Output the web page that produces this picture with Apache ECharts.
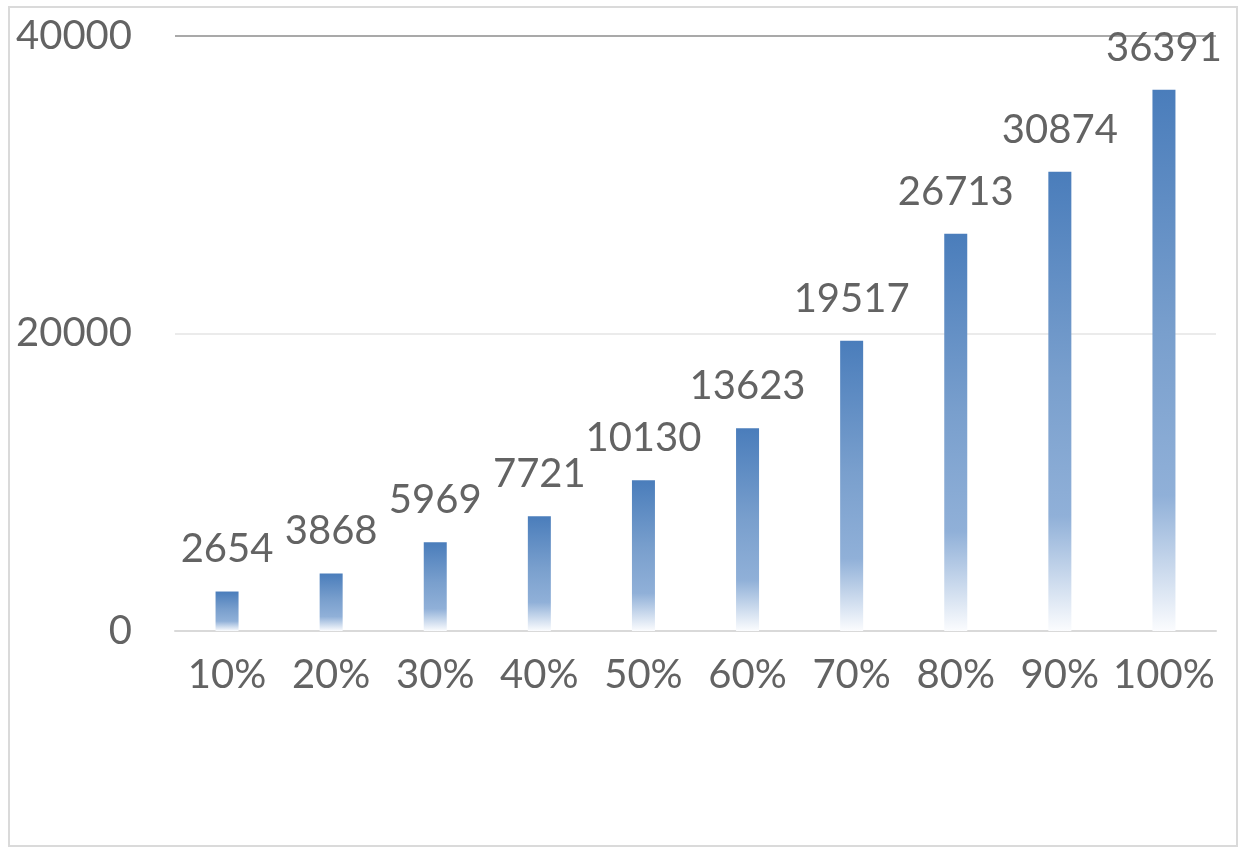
<!DOCTYPE html>
<html>
<head>
<meta charset="utf-8">
<script src="https://cdn.jsdelivr.net/npm/echarts@6/dist/echarts.min.js"></script>
<style>
  html, body { margin: 0; padding: 0; background: #ffffff; }
  #chart { width: 1243px; height: 848px; }
</style>
</head>
<body>
<div id="chart"></div>
<script>
// Categories along the x axis
const categories = ['10%', '20%', '30%', '40%', '50%', '60%', '70%', '80%', '90%', '100%'];
// Bar values
const values = [2654, 3868, 5969, 7721, 10130, 13623, 19517, 26713, 30874, 36391];
// Value axis range
const yMin = 0;
const yMax = 40000;
const yStep = 20000;

const textColor = '#636363';
const fontFamily = 'Lato, "Open Sans", sans-serif';

const chart = echarts.init(document.getElementById('chart'), null, { renderer: 'canvas' });

// Each bar fades from blue at the top to white at its base
const barGradient = new echarts.graphic.LinearGradient(0, 0, 0, 1, [
  { offset: 0, color: '#4a7dbb' },
  { offset: 0.45, color: '#799fcd' },
  { offset: 0.75, color: '#90b0d8' },
  { offset: 1, color: '#fbfcfe' }
]);

chart.setOption({
  backgroundColor: '#ffffff',
  animation: false,
  graphic: [{
    type: 'rect',
    shape: { x: 9, y: 7, width: 1228, height: 839 },
    style: { fill: 'none', stroke: '#dadada', lineWidth: 2 },
    silent: true
  }],
  grid: { left: 175, right: 27, top: 36, bottom: 217, containLabel: false },
  xAxis: {
    type: 'category',
    data: categories,
    axisLine: { show: true, lineStyle: { color: '#d9d9d9', width: 2 } },
    axisTick: { show: false },
    axisLabel: { color: textColor, fontSize: 40, fontFamily: fontFamily, margin: 24, interval: 0, hideOverlap: false },
    splitLine: { show: false }
  },
  yAxis: {
    type: 'value',
    min: yMin,
    max: yMax,
    interval: yStep,
    axisLine: { show: false },
    axisTick: { show: false },
    axisLabel: {
      color: textColor, fontSize: 40, fontFamily: fontFamily, margin: 43,
      formatter: function (v) { return String(v); }
    },
    splitLine: { show: true, lineStyle: { color: ['#d9d9d9', '#ebebeb', '#a9a9a9'], width: 2 } }
  },
  series: [{
    type: 'bar',
    data: values,
    barWidth: 23,
    itemStyle: { color: barGradient },
    label: {
      show: true,
      position: 'top',
      distance: 22,
      color: textColor,
      fontSize: 40,
      fontFamily: fontFamily
    }
  }]
});
</script>
</body>
</html>
